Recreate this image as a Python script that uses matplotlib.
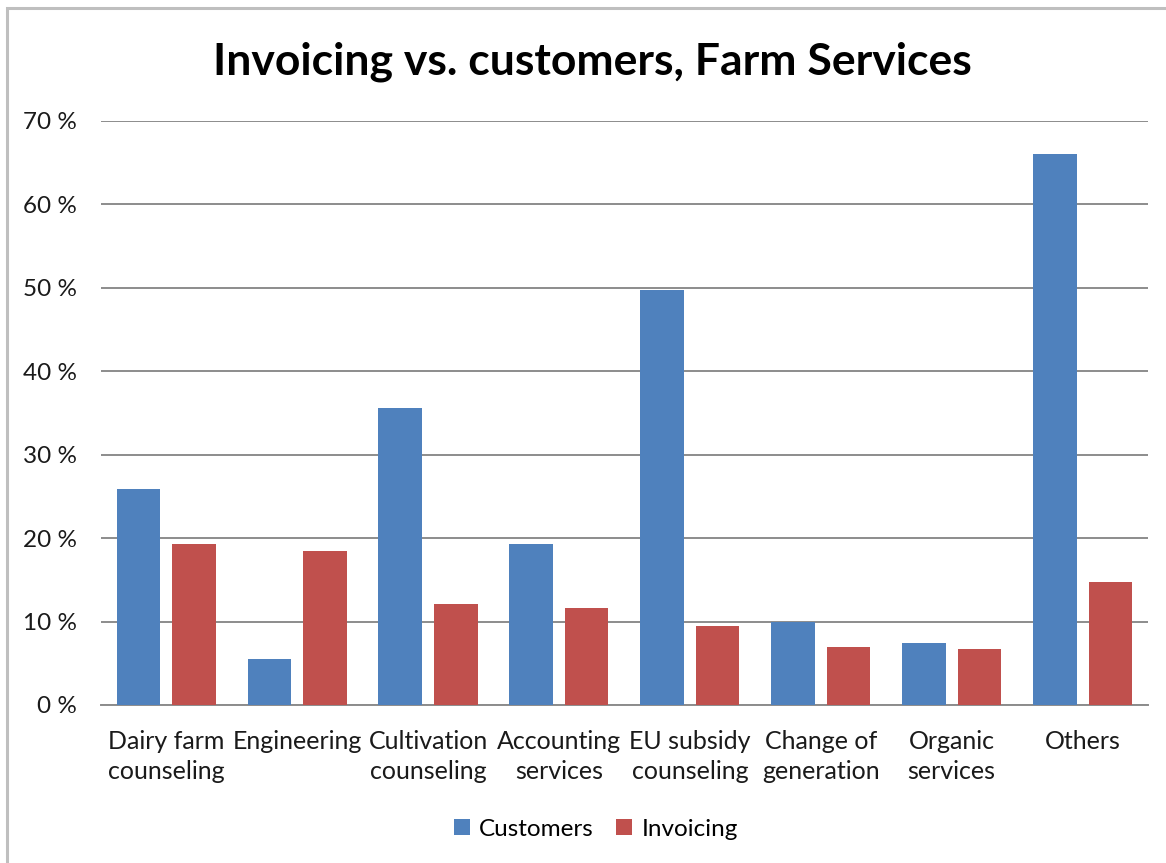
import numpy as np
import matplotlib.pyplot as plt
from matplotlib.patches import Rectangle
from matplotlib.ticker import FuncFormatter

categories = [
    "Dairy farm\ncounseling", "Engineering", "Cultivation\ncounseling",
    "Accounting\nservices", "EU subsidy\ncounseling", "Change of\ngeneration",
    "Organic\nservices", "Others",
]
customers = [25.9, 5.5, 35.6, 19.3, 49.8, 10.0, 7.4, 66.1]
invoicing = [19.3, 18.5, 12.1, 11.6, 9.5, 6.9, 6.7, 14.8]

plt.rcParams["font.family"] = ["Lato", "DejaVu Sans"]

fig = plt.figure(figsize=(11.66, 8.63), dpi=100)
ax = fig.add_axes([0.0864, 0.1831, 0.8982, 0.6767])

x = np.arange(len(categories))
w = 0.333
off = 0.212
ax.bar(x - off, customers, w, color="#4F81BD", label="Customers", zorder=3)
ax.bar(x + off, invoicing, w, color="#C0504D", label="Invoicing", zorder=3)

ax.set_xlim(-0.5, len(categories) - 0.5)
ax.set_ylim(0, 70)
ax.set_yticks(range(0, 71, 10))
ax.yaxis.set_major_formatter(FuncFormatter(lambda v, p: f"{v:.0f} %"))
ax.grid(axis="y", color="#8C8C8C", linewidth=1.4, zorder=0)

ax.set_xticks(x)
ax.set_xticklabels(categories, fontsize=18, color="#1A1A1A", linespacing=1.38)
ax.tick_params(axis="x", length=0, pad=18)
ax.tick_params(axis="y", length=0, pad=17, labelsize=17.5, labelcolor="#1A1A1A")

for side in ["top", "right", "left"]:
    ax.spines[side].set_visible(False)
ax.spines["bottom"].set_color("#8C8C8C")
ax.spines["bottom"].set_linewidth(1.4)

fig.text(0.508, 0.928, "Invoicing vs. customers, Farm Services",
         ha="center", va="center", fontsize=32, fontweight="bold")

fig.legend(loc="center", bbox_to_anchor=(0.511, 0.039), ncol=2, frameon=False,
           fontsize=17.5, handlelength=0.65, handleheight=0.65,
           handletextpad=0.4, columnspacing=0.9)

# outer chart frame (runs off the right and bottom edges)
fig.patches.append(Rectangle((6.5 / 1166, -0.05), 1.2, 1 - 8.5 / 863 + 0.05,
                             transform=fig.transFigure, fill=False,
                             edgecolor="#BFBFBF", linewidth=2.2))

fig.savefig("out.png", dpi=100)
